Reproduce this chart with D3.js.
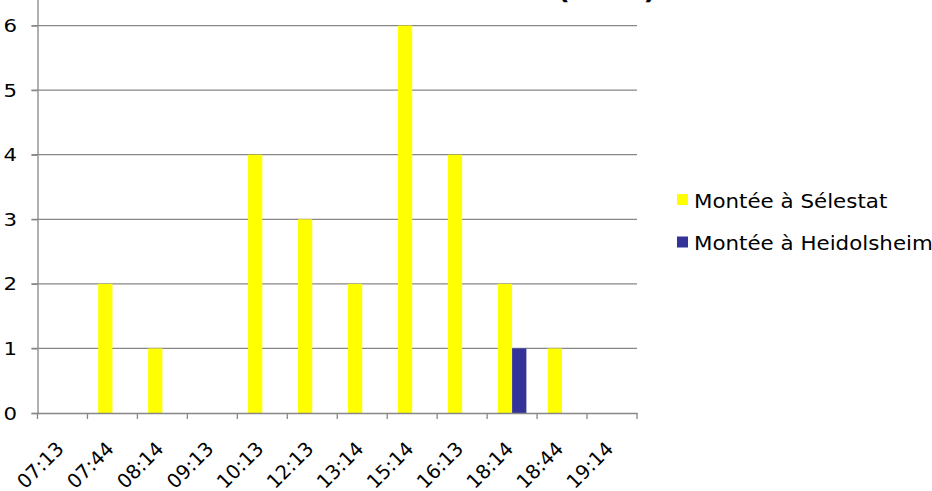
<!DOCTYPE html>
<html>
<head>
<meta charset="utf-8">
<script src="https://cdn.jsdelivr.net/npm/d3@7"></script>
<style>
  body { margin: 0; background: #fff; }
  svg { display: block; font-family: "DejaVu Sans", Verdana, sans-serif; }
</style>
</head>
<body>
<svg id="chart"></svg>
<script>
// horaires (catégories)
const horaires = ["07:13", "07:44", "08:14", "09:13", "10:13", "12:13", "13:14", "15:14", "16:13", "18:14", "18:44", "19:14"];
const series = ["Montée à Sélestat", "Montée à Heidolsheim"];
const selestat = [0, 2, 1, 0, 4, 3, 2, 6, 4, 2, 1, 0];
const heidolsheim = [0, 0, 0, 0, 0, 0, 0, 0, 0, 1, 0, 0];
const yTicks = [0, 1, 2, 3, 4, 5, 6, 7];
const colors = ["#ffff00", "#333399"];
const titre = "Nombre de montées (total)";

const width = 932, height = 491;
const margin = {left: 37.5, right: 295, top: -39, bottom: 78};
const stretch = 1.15; // le texte de l'image est un peu élargi
const font = "DejaVu Sans, Verdana, sans-serif";
const grey = "#878787";

const svg = d3.select("#chart").attr("width", width).attr("height", height);

const x = d3.scaleBand().domain(horaires).range([margin.left, width - margin.right]).padding(0);
const xSub = d3.scaleBand().domain(series).range([0, x.bandwidth()]).paddingInner(0).paddingOuter(0.75);
const y = d3.scaleLinear().domain([0, 7]).range([height - margin.bottom, margin.top]);

const rows = horaires.map((h, i) => ({h, values: [selestat[i], heidolsheim[i]]}));

// grille
svg.append("g")
  .selectAll("line")
  .data(yTicks.filter(d => d > 0))
  .join("line")
  .attr("x1", margin.left - 6)
  .attr("x2", width - margin.right)
  .attr("y1", d => y(d))
  .attr("y2", d => y(d))
  .attr("stroke", grey)
  .attr("stroke-width", 1.3);

// barres
svg.append("g")
  .selectAll("g")
  .data(rows)
  .join("g")
  .attr("transform", d => `translate(${x(d.h)},0)`)
  .selectAll("rect")
  .data(d => d.values.map((v, k) => ({s: series[k], v, k})))
  .join("rect")
  .attr("x", d => xSub(d.s))
  .attr("width", xSub.bandwidth())
  .attr("y", d => y(d.v))
  .attr("height", d => y(0) - y(d.v))
  .attr("fill", d => colors[d.k]);

// axe Y
const yAxis = svg.append("g")
  .attr("transform", `translate(${margin.left},0)`)
  .call(d3.axisLeft(y).tickValues(yTicks).tickSize(6).tickFormat(d3.format("d")));
yAxis.attr("font-family", font);
yAxis.select(".domain").attr("stroke", grey).attr("stroke-width", 1.3);
yAxis.selectAll(".tick line").attr("stroke", grey).attr("stroke-width", 1.3);
yAxis.selectAll(".tick text")
  .attr("x", null).attr("dy", null)
  .attr("font-size", 18.5)
  .attr("fill", "#000")
  .attr("text-anchor", "end")
  .attr("dominant-baseline", "central")
  .attr("transform", `translate(-20.5,0) scale(${stretch},1)`);

// axe X
const xAxis = svg.append("g")
  .attr("transform", `translate(0,${y(0)})`)
  .call(d3.axisBottom(x).tickSize(6).tickSizeOuter(0));
xAxis.attr("font-family", font);
xAxis.select(".domain").attr("stroke", grey).attr("stroke-width", 1.3);
xAxis.selectAll(".tick line")
  .attr("stroke", grey).attr("stroke-width", 1.3)
  .attr("transform", `translate(${-x.bandwidth() / 2},0)`);
svg.append("line")
  .attr("x1", width - margin.right).attr("x2", width - margin.right)
  .attr("y1", y(0)).attr("y2", y(0) + 6)
  .attr("stroke", grey).attr("stroke-width", 1.3);
xAxis.selectAll(".tick text")
  .attr("y", null).attr("dy", null)
  .attr("font-size", 19.5)
  .attr("fill", "#000")
  .attr("text-anchor", "end")
  .attr("transform", "translate(2.5,37) rotate(-45)");

// titre (coupé en haut de l'image)
svg.append("text")
  .attr("transform", `translate(656,-1.5) scale(${stretch},1)`)
  .attr("text-anchor", "end")
  .attr("font-size", 24)
  .attr("font-weight", "bold")
  .text(titre);

// légende
const legend = svg.append("g").attr("transform", "translate(677,194)");
const item = legend.selectAll("g")
  .data(series)
  .join("g")
  .attr("transform", (d, i) => `translate(0,${i * 42.5})`);
item.append("rect")
  .attr("width", 11).attr("height", 11)
  .attr("fill", (d, i) => colors[i]);
item.append("text")
  .attr("transform", `translate(17,13.5) scale(${stretch},1)`)
  .attr("font-size", 18.6)
  .text(d => d);
</script>
</body>
</html>
